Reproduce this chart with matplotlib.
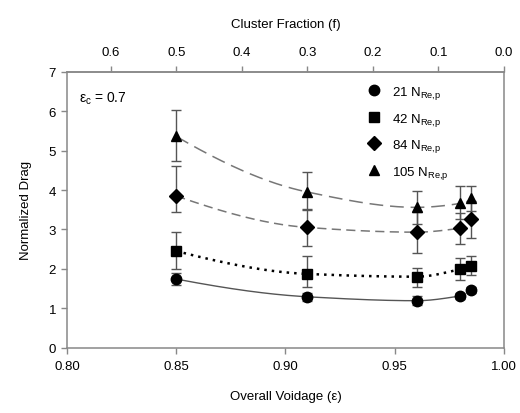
import numpy as np
import matplotlib
matplotlib.use("Agg")
import matplotlib.pyplot as plt
from matplotlib.lines import Line2D
from matplotlib.ticker import FormatStrFormatter

plt.rcParams['font.family'] = ['Liberation Sans', 'DejaVu Sans']
plt.rcParams['mathtext.fontset'] = 'custom'
plt.rcParams['mathtext.rm'] = 'Liberation Sans'
plt.rcParams['mathtext.it'] = 'Liberation Sans'

voidage = [0.85, 0.91, 0.96, 0.98, 0.985]
series_labels = ["21", "42", "84", "105"]
drag_21 = [1.74, 1.29, 1.19, 1.31, 1.46]
drag_42 = [2.45, 1.87, 1.80, 1.99, 2.07]
drag_84 = [3.85, 3.05, 2.93, 3.03, 3.26]
drag_105 = [5.36, 3.95, 3.56, 3.66, 3.79]
err_lo_21 = [0.15, 0.10, 0.12, 0.07, 0.08]
err_hi_21 = [0.15, 0.10, 0.12, 0.07, 0.08]
err_lo_42 = [0.45, 0.33, 0.27, 0.27, 0.23]
err_hi_42 = [0.48, 0.45, 0.21, 0.29, 0.25]
err_lo_84 = [0.40, 0.48, 0.53, 0.39, 0.47]
err_hi_84 = [0.77, 0.48, 0.52, 0.39, 0.47]
err_lo_105 = [0.62, 0.45, 0.42, 0.40, 0.33]
err_hi_105 = [0.66, 0.50, 0.42, 0.45, 0.32]
eps_c = 0.7


def pchip(x, y, xq):
    x = np.asarray(x, float); y = np.asarray(y, float)
    h = np.diff(x); d = np.diff(y) / h
    n = len(x); m = np.zeros(n)
    for k in range(1, n - 1):
        if d[k - 1] * d[k] > 0:
            w1 = 2 * h[k] + h[k - 1]; w2 = h[k] + 2 * h[k - 1]
            m[k] = (w1 + w2) / (w1 / d[k - 1] + w2 / d[k])
    def endslope(h0, h1, d0, d1):
        s = ((2 * h0 + h1) * d0 - h0 * d1) / (h0 + h1)
        if np.sign(s) != np.sign(d0):
            s = 0.0
        elif np.sign(d0) != np.sign(d1) and abs(s) > 3 * abs(d0):
            s = 3 * d0
        return s
    m[0] = endslope(h[0], h[1], d[0], d[1])
    m[-1] = endslope(h[-1], h[-2], d[-1], d[-2])
    idx = np.clip(np.searchsorted(x, xq) - 1, 0, n - 2)
    t = (xq - x[idx]) / h[idx]
    h00 = 2 * t**3 - 3 * t**2 + 1; h10 = t**3 - 2 * t**2 + t
    h01 = -2 * t**3 + 3 * t**2; h11 = t**3 - t**2
    return (h00 * y[idx] + h10 * h[idx] * m[idx] + h01 * y[idx + 1]
            + h11 * h[idx] * m[idx + 1])


series = [
    (drag_21, err_lo_21, err_hi_21, 'o', 7.5, dict(color='#555555', ls='-', lw=1.0)),
    (drag_42, err_lo_42, err_hi_42, 's', 6.8, dict(color='black', ls=(0, (1, 2.0)), lw=1.8)),
    (drag_84, err_lo_84, err_hi_84, 'D', 7.0, dict(color='#777777', ls=(0, (6, 3.5)), lw=1.1)),
    (drag_105, err_lo_105, err_hi_105, '^', 7.8, dict(color='#777777', ls=(0, (9, 4.5)), lw=1.1)),
]

fig = plt.figure(figsize=(5.2, 4.14), dpi=100)
ax = fig.add_axes([0.129, 0.158, 0.840, 0.666])

xs = np.asarray(voidage)
xfit = np.linspace(0.85, 0.98, 200)
handles = []
for (vals, elo, ehi, mk, ms, lstyle), lab in zip(series, series_labels):
    ax.plot(xfit, pchip(xs[:4], vals[:4], xfit), zorder=2, **lstyle)
    ax.errorbar(xs, vals, yerr=[elo, ehi], fmt='none', ecolor='#555555',
                elinewidth=1.0, capsize=3.5, capthick=1.0, zorder=3)
    ax.plot(xs, vals, ls='none', marker=mk, ms=ms, color='black', zorder=4)
    handles.append(Line2D([], [], ls='none', marker=mk, ms=ms, color='black',
                          label=lab + r" N$_{\mathrm{Re{,}p}}$"))

ax.set_xlim(0.80, 1.00)
ax.set_ylim(0, 7)
ax.set_xticks([0.80, 0.85, 0.90, 0.95, 1.00])
ax.xaxis.set_major_formatter(FormatStrFormatter('%.2f'))
ax.set_yticks(range(0, 8))

for sp in ax.spines.values():
    sp.set_color('#888888')
    sp.set_linewidth(1.1)
ax.tick_params(axis='both', colors='#888888', labelcolor='black', labelsize=9.5,
               length=4, width=1, direction='out')
ax.tick_params(axis='x', pad=5)
ax.tick_params(axis='y', pad=4)

ax.set_xlabel('Overall Voidage (ε)', fontsize=9.5, labelpad=13)
ax.set_ylabel('Normalized Drag', fontsize=9.5, labelpad=12)

sec = ax.secondary_xaxis('top', functions=(lambda x: (1 - x) / (1 - eps_c),
                                           lambda f: 1 - (1 - eps_c) * f))
sec.set_xticks([0.6, 0.5, 0.4, 0.3, 0.2, 0.1, 0.0])
sec.xaxis.set_major_formatter(FormatStrFormatter('%.1f'))
sec.tick_params(colors='#888888', labelcolor='black', labelsize=9.5, length=4,
                width=1, direction='out', pad=6)
sec.spines['top'].set_color('#888888')
sec.spines['top'].set_linewidth(1.1)
sec.set_xlabel('Cluster Fraction (f)', fontsize=9.5, labelpad=14)

ax.text(0.027, 0.935, r"$\epsilon_{\mathrm{c}}$ = 0.7", transform=ax.transAxes,
        fontsize=10, va='top', ha='left')

ax.legend(handles=handles, loc='upper left', bbox_to_anchor=(0.675, 0.975),
          frameon=False, fontsize=9.5, handlelength=1.0, handletextpad=0.9,
          labelspacing=0.72, borderaxespad=0)

fig.savefig('out.png', dpi=100)
